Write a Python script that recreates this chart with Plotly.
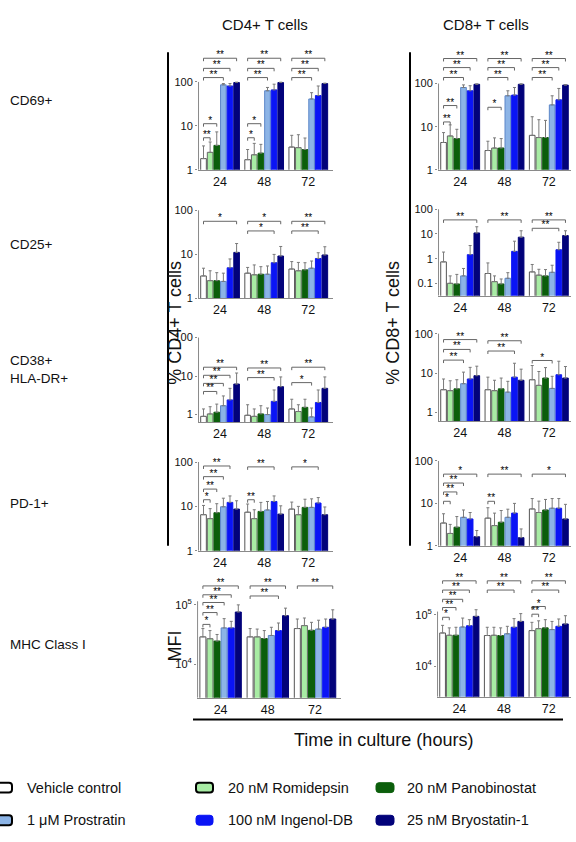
import plotly.graph_objects as go

W, H = 576, 842

# ---------------- DATA ----------------
times = ["24", "48", "72"]
treatments = ["Vehicle control", "20 nM Romidepsin", "20 nM Panobinostat",
              "1 μM Prostratin", "100 nM Ingenol-DB", "25 nM Bryostatin-1"]

# values are [time][treatment]
cd4_cd69_mean = [[1.8, 2.5, 3.6, 86, 81, 97], [1.7, 2.2, 2.4, 63, 66, 97], [3.3, 3.2, 2.9, 41, 49, 92]]
cd4_cd69_err = [[1.7, 1.8, 3.7, 6, 11, 2], [1.2, 1.8, 1.4, 12, 23, 2], [2.8, 3.1, 2.4, 16, 32, 2]]
cd4_cd69_sig = [(0, 1, "**"), (0, 2, "*"), (0, 3, "**"), (0, 4, "**"), (0, 5, "**"),
                (1, 1, "*"), (1, 2, "*"), (1, 3, "**"), (1, 4, "**"), (1, 5, "**"),
                (2, 3, "**"), (2, 4, "**"), (2, 5, "**")]

cd8_cd69_mean = [[4.3, 6.1, 5.3, 81, 68, 96], [2.8, 3.2, 3.2, 52, 54, 96], [6.3, 5.6, 5.6, 32, 42, 92]]
cd8_cd69_err = [[3.0, 4.9, 3.4, 12, 21, 2], [1.8, 2.3, 2.1, 16, 27, 2], [10.7, 8.9, 8.4, 20, 35, 2]]
cd8_cd69_sig = [(0, 1, "**"), (0, 2, "**"), (0, 3, "**"), (0, 4, "**"), (0, 5, "**"),
                (1, 2, "*"), (1, 3, "**"), (1, 4, "**"), (1, 5, "**"),
                (2, 3, "**"), (2, 4, "**"), (2, 5, "**")]

cd4_cd25_mean = [[3.2, 2.5, 2.5, 2.4, 4.9, 11], [3.7, 3.4, 3.5, 3.5, 6.4, 9.1], [4.6, 4.2, 4.4, 4.8, 8.0, 9.6]]
cd4_cd25_err = [[1.6, 1.7, 1.3, 1.3, 2.9, 6.5], [1.3, 2.3, 1.7, 1.9, 3.5, 5.9], [2.2, 2.3, 2.0, 2.2, 2.8, 5.2]]
cd4_cd25_sig = [(0, 5, "*"), (1, 4, "*"), (1, 5, "*"), (2, 4, "**"), (2, 5, "**")]

cd8_cd25_mean = [[0.74, 0.10, 0.094, 0.2, 1.45, 11], [0.25, 0.117, 0.094, 0.16, 1.97, 7.4], [0.29, 0.215, 0.2, 0.28, 2.3, 8.6]]
cd8_cd25_err = [[1.11, 0.10, 0.136, 0.2, 1.95, 8.6], [0.42, 0.083, 0.056, 0.11, 3.13, 6.1], [0.29, 0.155, 0.16, 0.26, 2.3, 4.9]]
cd8_cd25_sig = [(0, 5, "**"), (1, 5, "**"), (2, 4, "**"), (2, 5, "**")]

cd4_cd38_mean = [[0.9, 1.04, 1.15, 1.7, 2.4, 6.2], [0.96, 0.9, 1.04, 1.0, 2.2, 5.3], [1.4, 1.2, 1.54, 0.87, 2.06, 4.8]]
cd4_cd38_err = [[0.5, 0.56, 0.72, 1.35, 2.4, 5.8], [0.84, 0.5, 0.66, 0.48, 2.15, 4.2], [1.1, 0.6, 0.96, 0.61, 2.29, 4.7]]
cd4_cd38_sig = [(0, 2, "**"), (0, 3, "**"), (0, 4, "**"), (0, 5, "**"),
                (1, 4, "**"), (1, 5, "**"), (2, 3, "*"), (2, 5, "**")]

cd8_cd38_mean = [[3.8, 3.6, 4.0, 5.4, 7.1, 8.6], [3.8, 3.6, 4.0, 3.3, 7.9, 6.6], [6.8, 4.9, 7.5, 4.1, 9.1, 7.5]]
cd8_cd38_err = [[3.3, 2.8, 2.8, 5.2, 6.9, 6.4], [4.1, 3.0, 3.5, 2.9, 9.9, 6.0], [8.8, 6.1, 6.3, 4.2, 10.9, 7.2]]
cd8_cd38_sig = [(0, 3, "**"), (0, 4, "**"), (0, 5, "**"), (1, 4, "**"), (1, 5, "**"), (2, 3, "*")]

cd4_pd1_mean = [[6.5, 5.3, 7.2, 9.8, 12.3, 8.7], [7.4, 5.3, 7.7, 8.3, 12.9, 6.7], [8.7, 6.5, 9.5, 9.5, 11.9, 6.5]]
cd4_pd1_err = [[4.0, 3.6, 4.3, 5.5, 4.9, 4.7], [3.9, 3.1, 4.6, 4.6, 4.3, 3.6], [3.8, 3.5, 5.0, 5.3, 3.9, 3.2]]
cd4_pd1_sig = [(0, 1, "*"), (0, 2, "**"), (0, 3, "**"), (0, 4, "**"), (1, 1, "**"), (1, 4, "**"), (2, 4, "*")]

cd8_pd1_mean = [[3.45, 1.96, 2.75, 4.7, 4.3, 1.64], [4.5, 3.0, 3.6, 4.7, 5.9, 1.56], [7.4, 6.1, 7.0, 7.7, 7.7, 4.3]]
cd8_pd1_err = [[2.25, 1.24, 2.15, 2.3, 1.8, 0.66], [3.4, 2.9, 3.2, 2.6, 4.1, 0.94], [5.6, 5.2, 5.4, 5.3, 5.3, 5.2]]
cd8_pd1_sig = [(0, 1, "*"), (0, 2, "**"), (0, 3, "**"), (0, 5, "*"), (1, 1, "**"), (1, 5, "**"), (2, 5, "*")]

cd4_mhc_mean = [[28800, 26800, 24500, 40800, 40800, 75700], [28800, 28800, 27000, 30400, 36800, 65700],
                [39800, 44600, 37200, 39000, 41800, 57700]]
cd4_mhc_err = [[11000, 10000, 7100, 17700, 11900, 24300], [11000, 10200, 9800, 11400, 12600, 22300],
               [17900, 15400, 13500, 16000, 15900, 24800]]
cd4_mhc_sig = [(0, 1, "*"), (0, 2, "**"), (0, 3, "**"), (0, 4, "**"), (0, 5, "**"),
               (1, 4, "**"), (1, 5, "**"), (2, 5, "**")]

cd8_mhc_mean = [[44100, 39800, 39800, 57600, 61000, 92800], [39300, 39800, 39300, 42500, 56900, 74000],
                [49000, 53500, 55400, 51300, 59400, 66000]]
cd8_mhc_err = [[17900, 15600, 17100, 28400, 19000, 32200], [17600, 17100, 16100, 16900, 26900, 31000],
               [22000, 22500, 24600, 22700, 23100, 29600]]
cd8_mhc_sig = [(0, 1, "*"), (0, 2, "**"), (0, 3, "**"), (0, 4, "**"), (0, 5, "**"),
               (1, 4, "**"), (1, 5, "**"), (2, 1, "**"), (2, 2, "*"), (2, 4, "**"), (2, 5, "**")]

pct_ticks = [1, 10, 100]
pct_ticks_cd25_cd8 = [0.1, 1, 10, 100]
mfi_ticks = [1e4, 1e5]
mfi_ticktext = ["10<sup>4</sup>", "10<sup>5</sup>"]

# ---------------- STYLE / LAYOUT ----------------
FONT = "Arial, Liberation Sans, sans-serif"
fills = ["#ffffff", "#a8eca4", "#0b5e0b", "#8cb4e6", "#0a14f5", "#02027a"]
lines = ["#555555", "#666666", "#0b5e0b", "#5c86c8", "#0a14f5", "#02027a"]

# bracket heights (log10 units) for each significance mark, per panel
lv_cd4_cd69 = [0.73, 1.05, 2.10, 2.31, 2.54, 0.73, 1.05, 2.10, 2.31, 2.54, 2.10, 2.31, 2.54]
lv_cd8_cd69 = [1.11, 1.49, 2.14, 2.37, 2.58, 1.45, 2.14, 2.37, 2.58, 2.14, 2.37, 2.58]
lv_cd4_cd25 = [1.75, 1.53, 1.75, 1.53, 1.75]
lv_cd8_cd25 = [1.57, 1.57, 1.23, 1.57]
lv_cd4_cd38 = [0.6, 0.81, 1.02, 1.23, 0.96, 1.21, 0.83, 1.23]
lv_cd8_cd38 = [1.33, 1.6, 1.85, 1.56, 1.82, 1.32]
lv_cd4_pd1 = [1.15, 1.39, 1.67, 1.91, 1.15, 1.89, 1.89]
lv_cd8_pd1 = [1.05, 1.27, 1.48, 1.69, 1.05, 1.69, 1.69]
lv_cd4_mhc = [4.67, 4.87, 5.04, 5.17, 5.32, 5.15, 5.32, 5.32]
lv_cd8_mhc = [4.95, 5.14, 5.3, 5.48, 5.66, 5.48, 5.66, 5.01, 5.16, 5.48, 5.66]

# panel: data, pixel box (left, right, top, bottom), y range (log), x range, ticks, axis-line top
panels = [
    (cd4_cd69_mean, cd4_cd69_err, cd4_cd69_sig, lv_cd4_cd69, (198, 333, 44.6, 167), [0, 2.75], [-0.5, 2.56], pct_ticks, None, 100),
    (cd8_cd69_mean, cd8_cd69_err, cd8_cd69_sig, lv_cd8_cd69, (438, 571, 46.8, 167), [0, 2.75], [-0.5, 2.5], pct_ticks, None, 100),
    (cd4_cd25_mean, cd4_cd25_err, cd4_cd25_sig, lv_cd4_cd25, (198, 333, 205.8, 297), [0, 2.05], [-0.5, 2.56], pct_ticks, None, 100),
    (cd8_cd25_mean, cd8_cd25_err, cd8_cd25_sig, lv_cd8_cd25, (438, 571, 205.75, 294.5), [-1.5, 2.05], [-0.5, 2.5], pct_ticks_cd25_cd8, None, 100),
    (cd4_cd38_mean, cd4_cd38_err, cd4_cd38_sig, lv_cd4_cd38, (198, 333, 335, 422.8), [-0.2, 2.05], [-0.5, 2.56], pct_ticks, None, 100),
    (cd8_cd38_mean, cd8_cd38_err, cd8_cd38_sig, lv_cd8_cd38, (438, 571, 331, 421.8), [-0.22, 2.05], [-0.5, 2.5], pct_ticks, None, 100),
    (cd4_pd1_mean, cd4_pd1_err, cd4_pd1_sig, lv_cd4_pd1, (198, 333, 460.8, 553), [0, 2.05], [-0.5, 2.56], pct_ticks, None, 100),
    (cd8_pd1_mean, cd8_pd1_err, cd8_pd1_sig, lv_cd8_pd1, (438, 571, 459.85, 548), [0, 2.05], [-0.5, 2.5], pct_ticks, None, 100),
    (cd4_mhc_mean, cd4_mhc_err, cd4_mhc_sig, lv_cd4_mhc, (197, 341, 580.8, 702), [3.43, 5.45], [-0.5, 2.55], mfi_ticks, mfi_ticktext, 1.15e5),
    (cd8_mhc_mean, cd8_mhc_err, cd8_mhc_sig, lv_cd8_mhc, (437, 571, 577.2, 701), [3.4, 5.78], [-0.5, 2.5], mfi_ticks, mfi_ticktext, 1.15e5),
]

BARGAP = 0.1
GROUPW = 1 - BARGAP
NT = len(treatments)


def bar_center(t, k):
    return t - GROUPW / 2 + GROUPW / NT * (k + 0.5)


fig = go.Figure()
layout_axes = {}

for p, (mean, err, sig, lv, box, yr, xr, tv, tt, axtop) in enumerate(panels):
    n = p + 1
    xa, ya = f"x{n}", f"y{n}"
    left, right, top, bottom = box
    decade_px = (bottom - top) / (yr[1] - yr[0])

    for k in range(NT):
        fig.add_trace(go.Bar(
            x=list(range(len(times))), y=[mean[t][k] for t in range(len(times))],
            xaxis=xa, yaxis=ya, name=treatments[k], showlegend=False,
            marker=dict(color=fills[k], line=dict(color=lines[k], width=1)),
            error_y=dict(type="data", symmetric=False,
                         array=[err[t][k] for t in range(len(times))],
                         arrayminus=[0] * len(times), color="#7a7a7a", thickness=1, width=1.5),
            offsetgroup=str(k),
        ))

    # y-axis line (drawn from bottom to top label)
    fig.add_trace(go.Scatter(x=[xr[0] + 0.012, xr[0] + 0.012], y=[10 ** yr[0], axtop], mode="lines",
                             line=dict(color="#8a8a8a", width=1), xaxis=xa, yaxis=ya,
                             showlegend=False, hoverinfo="skip"))

    # significance brackets
    tick = 3.0 / decade_px
    lift = 2.5 / decade_px
    sx, sy, tx, ty, tl = [], [], [], [], []
    for (t, k, lab), lvl in zip(sig, lv):
        x0, x1 = bar_center(t, 0), bar_center(t, k)
        sx += [x0, x0, x1, x1, None]
        sy += [10 ** (lvl - tick), 10 ** lvl, 10 ** lvl, 10 ** (lvl - tick), None]
        tx.append((x0 + x1) / 2)
        ty.append(10 ** (lvl + lift))
        tl.append(lab)
    fig.add_trace(go.Scatter(x=sx, y=sy, mode="lines", line=dict(color="#666666", width=1),
                             xaxis=xa, yaxis=ya, showlegend=False, hoverinfo="skip", cliponaxis=False))
    fig.add_trace(go.Scatter(x=tx, y=ty, mode="text", text=tl, textposition="middle center",
                             textfont=dict(size=10, color="#000000", family=FONT),
                             xaxis=xa, yaxis=ya, showlegend=False, hoverinfo="skip", cliponaxis=False))

    layout_axes[f"xaxis{n}"] = dict(
        domain=[left / W, right / W], range=xr, anchor=ya, showgrid=False, zeroline=False,
        showline=True, linecolor="#8a8a8a", linewidth=1, ticks="",
        tickvals=list(range(len(times))), ticktext=times,
        tickfont=dict(size=12.5, color="#111111", family=FONT), fixedrange=True)
    ydict = dict(
        domain=[1 - bottom / H, 1 - top / H], type="log", range=yr, anchor=xa,
        showgrid=False, zeroline=False, showline=False, ticks="outside", ticklen=2,
        tickcolor="#8a8a8a", tickvals=tv, tickfont=dict(size=11, color="#111111", family=FONT),
        fixedrange=True)
    if tt is not None:
        ydict["ticktext"] = tt
    else:
        ydict["ticktext"] = [("%g" % v) for v in tv]
    layout_axes[f"yaxis{n}"] = ydict


def X(px):
    return px / W


def Y(py):
    return 1 - py / H


annotations = []


def text(s, px, py, size, xanchor="center", angle=0, yanchor="middle"):
    annotations.append(dict(text=s, x=X(px), y=Y(py), xref="paper", yref="paper", showarrow=False,
                            xanchor=xanchor, yanchor=yanchor, textangle=angle,
                            align="left" if xanchor == "left" else "center",
                            font=dict(size=size, color="#111111", family=FONT)))


text("CD4+ T cells", 265, 20, 15)
text("CD8+ T cells", 486, 20, 15)
text("CD69+", 8, 97, 13.5, "left")
text("CD25+", 8, 243, 13.5, "left")
text("CD38+<br>HLA-DR+", 8, 369, 13.5, "left")
text("PD-1+", 8, 505, 13.5, "left")
text("MHC Class I", 8, 648, 13.5, "left")
text("% CD4+ T cells", 175, 322, 18, angle=-90)
text("% CD8+ T cells", 393, 322, 18, angle=-90)
text("MFI", 175, 650, 18, angle=-90)
text("Time in culture (hours)", 383, 745, 18)

shapes = [
    dict(type="line", xref="paper", yref="paper", x0=X(168), x1=X(168), y0=Y(48), y1=Y(548),
         line=dict(color="#000000", width=2)),
    dict(type="line", xref="paper", yref="paper", x0=X(410), x1=X(410), y0=Y(48), y1=Y(548),
         line=dict(color="#000000", width=2)),
    dict(type="line", xref="paper", yref="paper", x0=X(193), x1=X(563), y0=Y(724), y1=Y(724),
         line=dict(color="#000000", width=2)),
]


def rrect(x0, y0, x1, y1, r=3):
    return (f"M {X(x0 + r)},{Y(y0)} L {X(x1 - r)},{Y(y0)} Q {X(x1)},{Y(y0)} {X(x1)},{Y(y0 + r)} "
            f"L {X(x1)},{Y(y1 - r)} Q {X(x1)},{Y(y1)} {X(x1 - r)},{Y(y1)} "
            f"L {X(x0 + r)},{Y(y1)} Q {X(x0)},{Y(y1)} {X(x0)},{Y(y1 - r)} "
            f"L {X(x0)},{Y(y0 + r)} Q {X(x0)},{Y(y0)} {X(x0 + r)},{Y(y0)} Z")


legend_pos = [(-6, 12, 25, 793), (196, 213, 226, 793), (376, 394, 405, 793),
              (-6, 12, 25, 826), (196, 213, 226, 826), (376, 394, 405, 826)]
legend_order = [0, 1, 2, 3, 4, 5]
outlined = [True, True, False, True, False, False]
for slot, k in enumerate(legend_order):
    sx0, sx1, tx0, cy = legend_pos[slot]
    shapes.append(dict(type="path", xref="paper", yref="paper", path=rrect(sx0, cy - 5, sx1, cy + 5),
                       fillcolor=fills[k],
                       line=dict(color="#000000" if outlined[k] else fills[k], width=2 if outlined[k] else 1)))
    text(treatments[k], tx0, cy, 14.5, "left")

fig.update_layout(
    width=W, height=H, margin=dict(l=0, r=0, t=0, b=0),
    paper_bgcolor="white", plot_bgcolor="rgba(0,0,0,0)",
    barmode="group", bargap=BARGAP, bargroupgap=0.15,
    showlegend=False, annotations=annotations, shapes=shapes,
    font=dict(family=FONT),
    **layout_axes,
)

fig.write_html("out.html")
